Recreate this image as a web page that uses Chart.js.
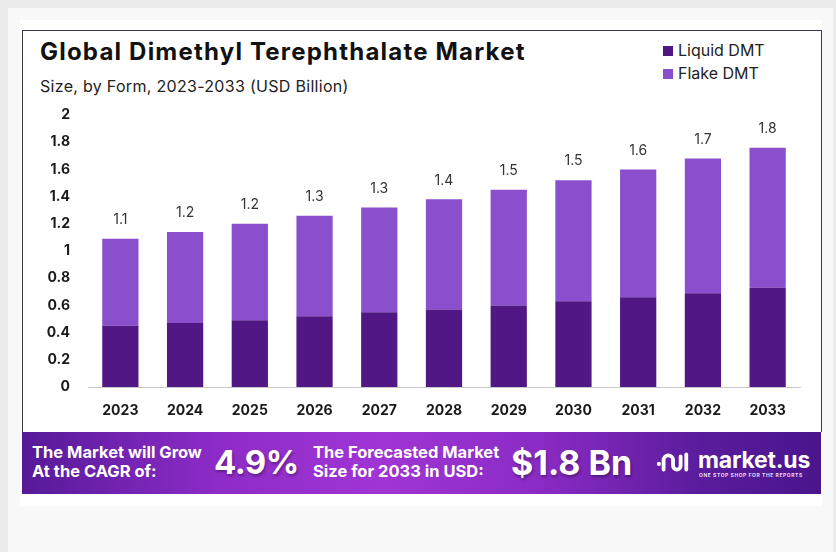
<!DOCTYPE html>
<html>
<head>
<meta charset="utf-8">
<script src="https://cdn.jsdelivr.net/npm/chart.js@4.4.1/dist/chart.umd.min.js"></script>
<style>
  html,body{margin:0;padding:0;}
  body{width:836px;height:552px;background:#ebebeb;position:relative;overflow:hidden;font-family:"Inter","Open Sans",sans-serif;}
  #panel{position:absolute;left:8px;top:8px;width:825px;height:544px;background:#f8f8f8;}
  #inner{position:absolute;left:20px;top:20px;width:802px;height:486px;background:#fff;}
  #frame{position:absolute;left:22px;top:30px;width:798px;height:401px;border:1px solid #3b3650;border-bottom:none;background:#fff;}
  #title{position:absolute;left:40px;top:37px;font-size:24px;font-weight:700;color:#111;letter-spacing:1.2px;white-space:nowrap;}
  #subtitle{position:absolute;left:40px;top:76px;font-size:16px;font-weight:400;color:#222;white-space:nowrap;letter-spacing:0.3px;}
  #legend{position:absolute;left:663px;top:40px;font-size:16px;color:#222;}
  #legend div{height:23px;line-height:20px;white-space:nowrap;}
  #legend span.sw{display:inline-block;width:10px;height:10px;margin-right:5px;vertical-align:0px;}
  #chartwrap{position:absolute;left:22px;top:100px;width:798px;height:330px;}
  #c{display:block;}
  #banner{position:absolute;left:22px;top:432px;width:799px;height:62px;
    background:linear-gradient(90deg,#561a98 0%,#8e2cc8 25%,#a035d4 45%,#8a2bc4 65%,#5a1c9c 85%,#4a158c 100%);color:#fff;font-weight:700;}
  .small{position:absolute;font-size:16.5px;line-height:19px;white-space:nowrap;letter-spacing:0px;}
  .big{position:absolute;font-size:33px;white-space:nowrap;letter-spacing:-0.5px;text-shadow:1px 2px 3px rgba(0,0,0,0.35);}
  #logo{position:absolute;left:633px;top:13px;}
  #logotext{position:absolute;left:676px;top:14px;font-size:23px;font-weight:700;white-space:nowrap;letter-spacing:-0.2px;}
  #tagline{position:absolute;left:677px;top:40px;font-size:5px;font-weight:700;white-space:nowrap;letter-spacing:0.55px;color:#e8d8f8;}
</style>
</head>
<body>
<div id="panel"></div>
<div id="inner"></div>
<div id="frame"></div>
<div id="title">Global Dimethyl Terephthalate Market</div>
<div id="subtitle">Size, by Form, 2023-2033 (USD Billion)</div>
<div id="legend"></div>
<div id="chartwrap"><canvas id="c" width="798" height="330"></canvas></div>
<div id="banner">
  <div class="small" style="left:10px;top:11px;">The Market will Grow<br>At the CAGR of:</div>
  <div class="big" style="left:192px;top:10px;">4.9%</div>
  <div class="small" style="left:291px;top:11px;">The Forecasted Market<br>Size for 2033 in USD:</div>
  <div class="big" style="left:489px;top:10px;font-size:34px;letter-spacing:0px;">$1.8 Bn</div>
  <svg id="logo" width="38" height="34" viewBox="0 0 40 36">
    <circle cx="4" cy="20" r="2.2" fill="#fff"/>
    <path d="M9 26 V16 a5 5 0 0 1 10 0 V22 a4 4 0 0 0 8 0 V12" stroke="#fff" stroke-width="4" fill="none" stroke-linecap="round"/>
    <path d="M33 10 V26" stroke="#fff" stroke-width="4" fill="none" stroke-linecap="round"/>
  </svg>
  <div id="logotext">market.us</div>
  <div id="tagline">ONE STOP SHOP FOR THE REPORTS</div>
</div>
<script>
const categories = ["2023","2024","2025","2026","2027","2028","2029","2030","2031","2032","2033"];
const liquidDMT = [0.45,0.47,0.49,0.52,0.55,0.57,0.60,0.63,0.66,0.69,0.73];
const flakeDMT  = [0.64,0.67,0.71,0.74,0.77,0.81,0.85,0.89,0.94,0.99,1.03];
const totalLabels = ["1.1","1.2","1.2","1.3","1.3","1.4","1.5","1.5","1.6","1.7","1.8"];
const seriesNames = ["Liquid DMT","Flake DMT"];
const seriesColors = ["#511785","#8a4fcc"];
const yTicks = [0,0.2,0.4,0.6,0.8,1,1.2,1.4,1.6,1.8,2];

const lg = document.getElementById('legend');
seriesNames.forEach((n,i)=>{
  const d=document.createElement('div');
  d.innerHTML='<span class="sw" style="background:'+seriesColors[i]+'"></span>'+n;
  lg.appendChild(d);
});

const topLabels = {
  id:'topLabels',
  afterDatasetsDraw(chart){
    const ctx=chart.ctx;
    const meta=chart.getDatasetMeta(chart.data.datasets.length-1);
    ctx.save();
    ctx.font='400 14px Inter, "Open Sans", sans-serif';
    ctx.fillStyle='#333';
    ctx.textAlign='center';
    ctx.textBaseline='bottom';
    meta.data.forEach((el,i)=>{
      ctx.fillText(totalLabels[i], el.x, el.y-12);
    });
    ctx.restore();
  }
};

new Chart(document.getElementById('c'),{
  type:'bar',
  data:{
    labels:categories,
    datasets:[
      {label:seriesNames[0],data:liquidDMT,backgroundColor:seriesColors[0],borderWidth:0},
      {label:seriesNames[1],data:flakeDMT,backgroundColor:seriesColors[1],borderWidth:0}
    ]
  },
  options:{
    responsive:false,
    animation:false,
    layout:{padding:{left:0,right:20,top:15,bottom:0}},
    datasets:{bar:{categoryPercentage:1,barPercentage:0.56}},
    plugins:{legend:{display:false},tooltip:{enabled:false}},
    scales:{
      x:{
        stacked:true,
        grid:{display:false,drawTicks:false},
        border:{display:true,color:'#c8c8c8',width:1},
        ticks:{color:'#1a1a1a',font:{family:'Inter, "Open Sans", sans-serif',size:14,weight:'700'},padding:15,maxRotation:0},
        afterFit(s){s.height=43;}
      },
      y:{
        stacked:true,
        min:0,max:2,
        afterBuildTicks(s){s.ticks=yTicks.map(v=>({value:v}));},
        grid:{display:false,drawTicks:false},
        border:{display:false},
        ticks:{color:'#1a1a1a',font:{family:'Inter, "Open Sans", sans-serif',size:14,weight:'700'},padding:18,
          callback:(v)=>String(v)},
        afterFit(s){s.width=66;s.paddingTop=0;s.paddingBottom=0;}
      }
    }
  },
  plugins:[topLabels]
});
</script>
</body>
</html>
